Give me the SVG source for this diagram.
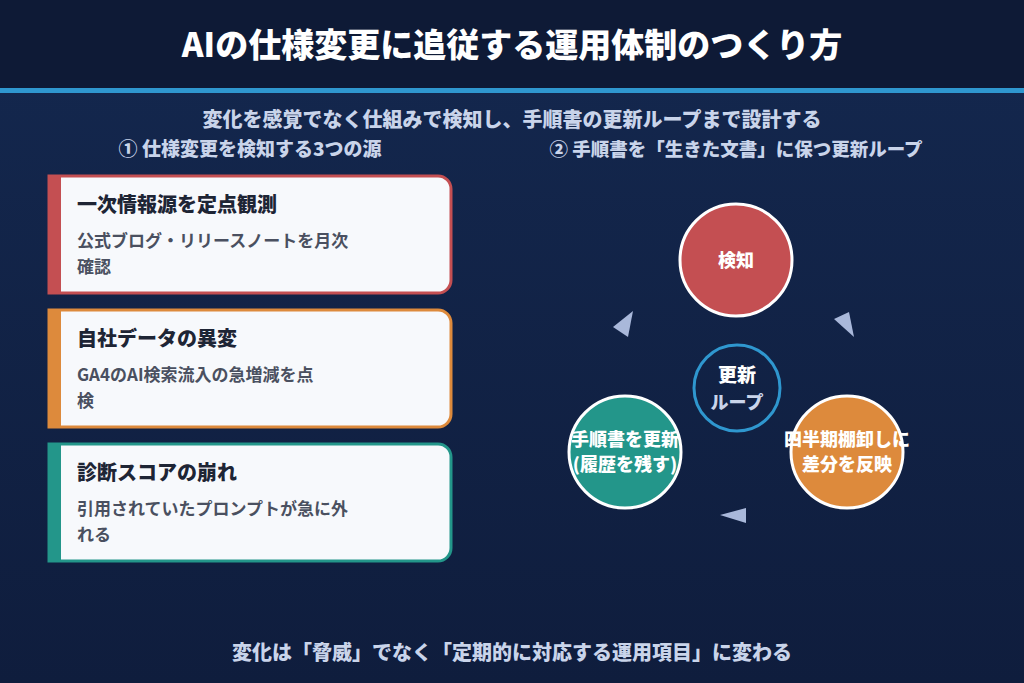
<svg xmlns="http://www.w3.org/2000/svg" width="1024" height="683" viewBox="0 0 1024 683">
<defs>
<linearGradient id="bg" x1="0" y1="0" x2="0" y2="1"><stop offset="0" stop-color="#14284f"/><stop offset="1" stop-color="#0f1d3d"/></linearGradient>
<style>
text{font-family:"Noto Sans CJK JP","Noto Sans",sans-serif;font-weight:900}
.card{fill:#f7f9fc;stroke-width:3}
.ct{font-size:20px;fill:#1e2535}
.cb{font-size:17px;fill:#4a5060;font-weight:700}
.node{stroke:#fff;stroke-width:3}
.nt{font-size:18px;fill:#fff;text-anchor:middle}
.arr{fill:#a9b8da}
</style>
</defs>
<rect width="1024" height="683" fill="url(#bg)"/>
<rect width="1024" height="88" fill="#0e1a36"/>
<rect y="88" width="1024" height="5" fill="#2f97cf"/>
<text x="512" y="57" font-size="33" fill="#fff" text-anchor="middle">AIの仕様変更に追従する運用体制のつくり方</text>
<text x="512" y="127" font-size="20" fill="#c9d4ea" text-anchor="middle" font-weight="700">変化を感覚でなく仕組みで検知し、手順書の更新ループまで設計する</text>
<text x="250" y="156" font-size="19" fill="#c9d4ea" text-anchor="middle" font-weight="700">① 仕様変更を検知する3つの源</text>
<text x="736" y="156" font-size="18.5" fill="#c9d4ea" text-anchor="middle" font-weight="700">② 手順書を「生きた文書」に保つ更新ループ</text>

<g id="card1"><path class="card" stroke="#c44f52" d="M49,176 H438 a13,13 0 0 1 13,13 V280 a13,13 0 0 1 -13,13 H49 Z"/><rect x="48" y="175" width="13" height="119" fill="#c44f52"/>
<text class="ct" x="77" y="212">一次情報源を定点観測</text><text class="cb" x="77" y="247">公式ブログ・リリースノートを月次</text><text class="cb" x="77" y="273">確認</text></g>
<g id="card2"><path class="card" stroke="#dd8a3c" d="M49,310 H438 a13,13 0 0 1 13,13 V414 a13,13 0 0 1 -13,13 H49 Z"/><rect x="48" y="309" width="13" height="119" fill="#dd8a3c"/>
<text class="ct" x="77" y="346">自社データの異変</text><text class="cb" x="77" y="381">GA4のAI検索流入の急増減を点</text><text class="cb" x="77" y="407">検</text></g>
<g id="card3"><path class="card" stroke="#23968a" d="M49,444 H438 a13,13 0 0 1 13,13 V548 a13,13 0 0 1 -13,13 H49 Z"/><rect x="48" y="443" width="13" height="119" fill="#23968a"/>
<text class="ct" x="77" y="480">診断スコアの崩れ</text><text class="cb" x="77" y="515">引用されていたプロンプトが急に外</text><text class="cb" x="77" y="541">れる</text></g>

<g id="connectors">
<polygon class="arr" points="613,327 633,311 628,337"/>
<polygon class="arr" points="834,319 849,312 854,337"/>
<polygon class="arr" points="720,515 746,508 746,523"/>
</g>
<g id="center"><circle cx="737" cy="388" r="43" fill="none" stroke="#2f97cf" stroke-width="3"/>
<text x="737" y="382" font-size="19" fill="#fff" text-anchor="middle">更新</text><text x="737" y="409" font-size="18" fill="#c9d4ea" text-anchor="middle" font-weight="700">ループ</text></g>
<g id="n1"><circle class="node" cx="736" cy="260" r="56" fill="#c44f52"/><text class="nt" x="736" y="267">検知</text></g>
<g id="n2"><circle class="node" cx="847" cy="452" r="56" fill="#dd8a3c"/><text class="nt" x="847" y="446">四半期棚卸しに</text><text class="nt" x="847" y="471">差分を反映</text></g>
<g id="n3"><circle class="node" cx="625" cy="452" r="56" fill="#23968a"/><text class="nt" x="625" y="446">手順書を更新</text><text class="nt" x="625" y="471">(履歴を残す)</text></g>
<text x="512" y="660" font-size="20" fill="#c9d4ea" text-anchor="middle" font-weight="700">変化は「脅威」でなく「定期的に対応する運用項目」に変わる</text>
</svg>
